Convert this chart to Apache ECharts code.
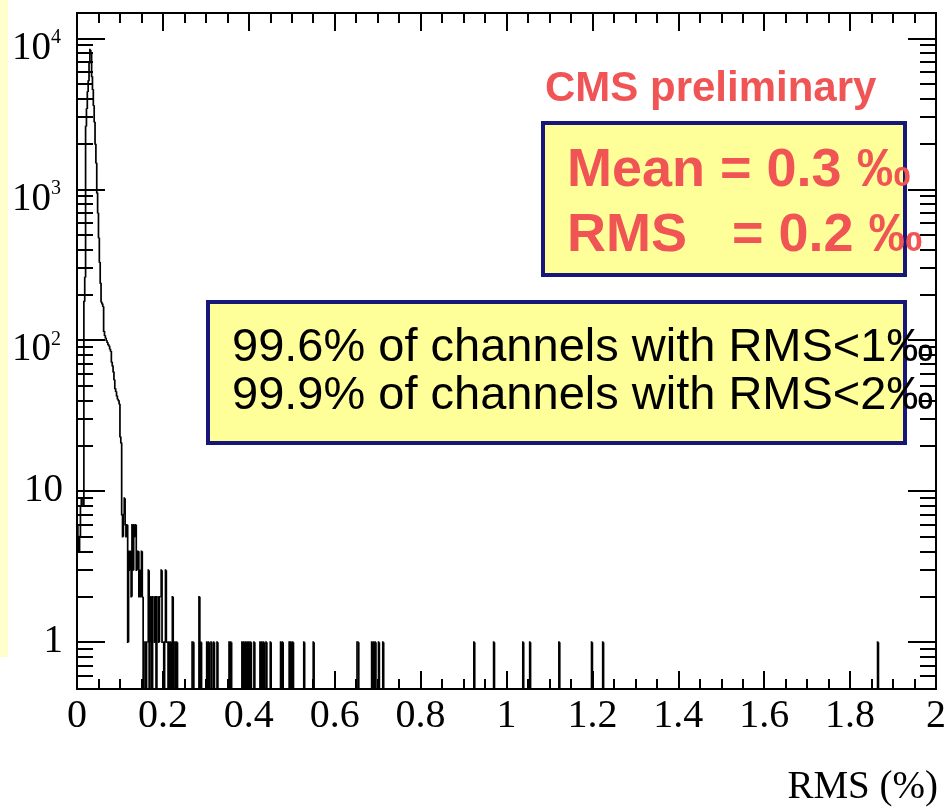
<!DOCTYPE html>
<html>
<head>
<meta charset="utf-8">
<script src="https://cdn.jsdelivr.net/npm/echarts@6/dist/echarts.min.js"></script>
<style>
  html, body { margin: 0; padding: 0; background: #ffffff; }
  #chart { width: 949px; height: 811px; }
</style>
</head>
<body>
<div id="chart"></div>
<script>
// Per-channel pedestal RMS distribution, fixed-width bins on [0, 2] %
const binWidth = 0.002;
const xMin = 0;
const xMax = 2;

// counts of the contiguous bins starting at RMS = 0
const coreCounts = [
  6, 5, 4, 5, 8, 9, 9, 8, 180, 260,
  2600, 3400, 4400, 5200, 6800, 8400, 7900, 5600, 4600, 3600,
  2800, 2000, 1500, 950, 700, 480, 330, 240, 180, 175,
  168, 115, 108, 104, 100, 97, 94, 92, 88, 85,
  72, 68, 62, 55, 48, 46, 43, 41, 40, 38,
  23, 21, 7, 5, 7, 9, 6, 5, 6, 1,
  4, 3, 4, 2, 6, 3, 6, 5, 6, 3,
  4, 4, 2, 3, 2, 4, 2, 0, 1, 1,
  0, 1, 1, 3, 0, 1, 2, 0, 2, 2,
  1, 2, 0, 2, 2, 1, 2, 2, 3, 1,
  1, 0, 1, 3, 1, 1, 0, 1, 0, 1,
  0, 2, 0, 1, 1, 0, 1, 0
];

// sparse tail: low edge (in %) of each further filled bin, and its count
const tailEdges = [
  0.268, 0.270, 0.284, 0.288, 0.302, 0.306, 0.312, 0.318, 0.326, 0.354,
  0.358, 0.384, 0.388, 0.392, 0.396, 0.400, 0.404, 0.412, 0.426, 0.430,
  0.434, 0.440, 0.450, 0.474, 0.478, 0.494, 0.498, 0.502, 0.528, 0.550,
  0.652, 0.654, 0.686, 0.690, 0.694, 0.702, 0.712, 0.924, 0.970, 1.038,
  1.054, 1.122, 1.198, 1.224, 1.864
];
const tailCounts = [
  1, 1, 2, 1, 1, 1, 1, 1, 1, 1,
  1, 1, 1, 1, 1, 1, 1, 1, 1, 1,
  1, 1, 1, 1, 1, 1, 1, 1, 1, 1,
  1, 1, 1, 1, 1, 1, 1, 1, 1, 1,
  1, 1, 1, 1, 1
];

// axis ranges and tick values
const yMin = 0.49;
const yMax = 14700;
const xMajorStep = 0.2;
const yMajorTicks = [1, 10, 100, 1000, 10000];
const yMinorTicks = [
  0.6, 0.7, 0.8, 0.9,
  2, 3, 4, 5, 6, 7, 8, 9,
  20, 30, 40, 50, 60, 70, 80, 90,
  200, 300, 400, 500, 600, 700, 800, 900,
  2000, 3000, 4000, 5000, 6000, 7000, 8000, 9000
];

// expand into the full bin list
const nBins = Math.round((xMax - xMin) / binWidth);
const counts = new Array(nBins).fill(0);
coreCounts.forEach((c, i) => { counts[i] = c; });
tailEdges.forEach((e, k) => { counts[Math.round((e - xMin) / binWidth)] = tailCounts[k]; });
const histData = counts.map((c, i) => [xMin + i * binWidth, c, i > 0 ? counts[i - 1] : 0]);

const SERIF = '"Liberation Serif", "DejaVu Serif", serif';
const SANS = '"Liberation Sans", Arial, sans-serif';
const BLACK = '#000000';
const RED = '#f05454';
const BOX_FILL = '#ffff99';
const BOX_EDGE = '#17177a';

// outline of one bin: riser from the previous bin, then the bin top
function renderBin(params, api) {
  const x0 = api.value(0);
  const c = api.value(1);
  const p = api.value(2);
  if (c === 0 && p === 0) return null;
  const floor = v => (v > 0 ? v : yMin);
  const a = api.coord([x0, floor(p)]);
  const b = api.coord([x0, floor(c)]);
  const d = api.coord([x0 + binWidth, floor(c)]);
  return {
    type: 'polyline',
    shape: { points: [a, b, d] },
    style: { stroke: BLACK, lineWidth: 1.7, fill: null }
  };
}

function yLabel(v) {
  const e = Math.log10(v);
  const n = Math.round(e);
  if (Math.abs(e - n) > 1e-6) return '';
  if (n === 0) return '1';
  if (n === 1) return '10';
  return '{b|10}{s|' + n + '}';
}

function xAxisDef(pos, withLabels) {
  return {
    type: 'value',
    position: pos,
    min: xMin,
    max: xMax,
    interval: xMajorStep,
    axisLine: { show: true, onZero: false, lineStyle: { color: BLACK, width: 2 } },
    axisTick: { show: true, inside: true, length: 18, lineStyle: { color: BLACK, width: 2 } },
    minorTick: { show: true, splitNumber: 4, length: 10, lineStyle: { color: BLACK, width: 2 } },
    splitLine: { show: false },
    minorSplitLine: { show: false },
    axisLabel: {
      show: withLabels,
      margin: 7,
      color: BLACK,
      fontFamily: SERIF,
      fontSize: 40
    }
  };
}

function yAxisDef(pos, values, len, withLabels) {
  return {
    type: 'log',
    logBase: 10,
    position: pos,
    min: yMin,
    max: yMax,
    axisLine: { show: true, onZero: false, lineStyle: { color: BLACK, width: 2 } },
    axisTick: { show: true, inside: true, length: len, customValues: values,
                lineStyle: { color: BLACK, width: 2 } },
    minorTick: { show: false },
    splitLine: { show: false },
    axisLabel: {
      show: withLabels,
      customValues: values,
      margin: 14,
      color: BLACK,
      fontFamily: SERIF,
      fontSize: 39,
      formatter: yLabel,
      rich: {
        b: { fontFamily: SERIF, fontSize: 39, color: BLACK, padding: [20, 0, 0, 0], verticalAlign: 'bottom' },
        s: { fontFamily: SERIF, fontSize: 20, color: BLACK, padding: [19, 2, 0, 0], verticalAlign: 'top' }
      }
    }
  };
}

const chart = echarts.init(document.getElementById('chart'), null, { renderer: 'canvas' });

chart.setOption({
  animation: false,
  backgroundColor: '#ffffff',
  grid: {
    left: 77, right: 7, top: 13, bottom: 122,
    show: true, borderColor: BLACK, borderWidth: 2, backgroundColor: 'transparent'
  },
  xAxis: [xAxisDef('bottom', true), xAxisDef('top', false)],
  yAxis: [
    yAxisDef('left', yMajorTicks, 28, true),
    yAxisDef('left', yMinorTicks, 16, false),
    yAxisDef('right', yMajorTicks, 28, false),
    yAxisDef('right', yMinorTicks, 16, false)
  ],
  series: [{
    type: 'custom',
    name: 'RMS',
    xAxisIndex: 0,
    yAxisIndex: 0,
    clip: true,
    renderItem: renderBin,
    encode: { x: 0, y: 1 },
    data: histData,
    z: 5
  }],
  graphic: [
    { type: 'rect', silent: true, z: 0, shape: { x: 0, y: 0, width: 8, height: 657 },
      style: { fill: '#ffffcc' } },
    { type: 'text', z: 100, x: 545, y: 89,
      style: { text: 'CMS preliminary', font: 'bold 42px ' + SANS, fill: RED, verticalAlign: 'middle' } },
    { type: 'rect', z: 100, shape: { x: 543, y: 123, width: 362, height: 152 },
      style: { fill: BOX_FILL, stroke: BOX_EDGE, lineWidth: 4 } },
    { type: 'text', z: 101, x: 567, y: 171,
      style: { text: 'Mean = 0.3 \u2030', font: 'bold 54px ' + SANS, fill: RED, verticalAlign: 'middle' } },
    { type: 'text', z: 101, x: 567, y: 236,
      style: { text: 'RMS   = 0.2 \u2030', font: 'bold 54px ' + SANS, fill: RED, verticalAlign: 'middle' } },
    { type: 'rect', z: 100, shape: { x: 208, y: 302, width: 697, height: 141 },
      style: { fill: BOX_FILL, stroke: BOX_EDGE, lineWidth: 4 } },
    { type: 'text', z: 101, x: 232, y: 348,
      style: { text: '99.6% of channels with RMS<1\u2030', font: '47px ' + SANS, fill: BLACK, verticalAlign: 'middle' } },
    { type: 'text', z: 101, x: 232, y: 396,
      style: { text: '99.9% of channels with RMS<2\u2030', font: '47px ' + SANS, fill: BLACK, verticalAlign: 'middle' } },
    { type: 'text', z: 100, x: 938, y: 788,
      style: { text: 'RMS (%)', font: '39px ' + SERIF, fill: BLACK, align: 'right', verticalAlign: 'middle' } }
  ]
});
</script>
</body>
</html>
